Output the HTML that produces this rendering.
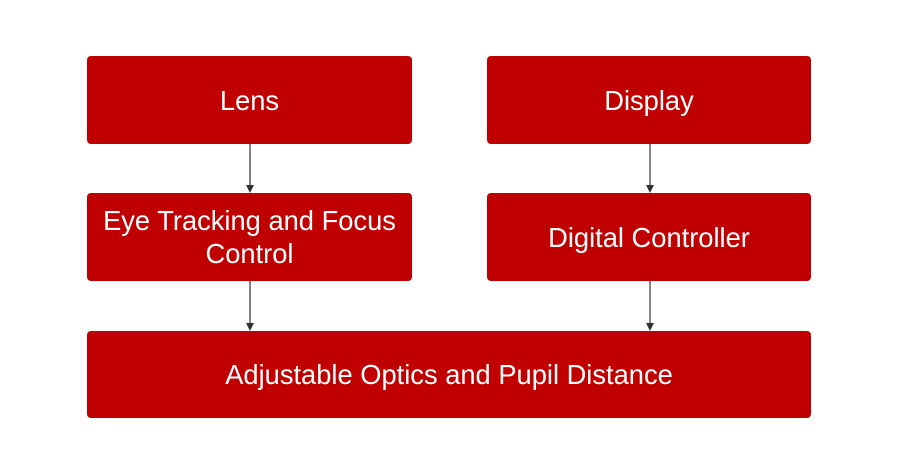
<!DOCTYPE html>
<html><head><style>
body{margin:0;width:900px;height:472px;background:#fff;position:relative;overflow:hidden;font-family:"Liberation Sans",Arial,sans-serif}
.b{position:absolute;background:#c00000;border-radius:4px;color:#fff;font-size:27.3px;display:flex;align-items:center;justify-content:center;text-align:center;line-height:33px;padding-top:0px;box-sizing:border-box}
</style></head><body>
<div class="b" style="left:87px;top:56px;width:325px;height:88px">Lens</div>
<div class="b" style="left:487px;top:56px;width:324px;height:88px">Display</div>
<div class="b" style="left:87px;top:193px;width:325px;height:88px">Eye Tracking and Focus<br>Control</div>
<div class="b" style="left:487px;top:193px;width:324px;height:88px">Digital Controller</div>
<div class="b" style="left:87px;top:331px;width:724px;height:87px">Adjustable Optics and Pupil Distance</div>
<svg width="900" height="472" style="position:absolute;left:0;top:0">
<g stroke="#333" stroke-width="1.2">
<line x1="250" y1="144" x2="250" y2="186"/><line x1="650" y1="144" x2="650" y2="186"/>
<line x1="250" y1="281" x2="250" y2="324"/><line x1="650" y1="281" x2="650" y2="324"/>
</g>
<g fill="#333">
<polygon points="246,185 254,185 250,193"/><polygon points="646,185 654,185 650,193"/>
<polygon points="246,323 254,323 250,331"/><polygon points="646,323 654,323 650,331"/>
</g></svg>
</body></html>
